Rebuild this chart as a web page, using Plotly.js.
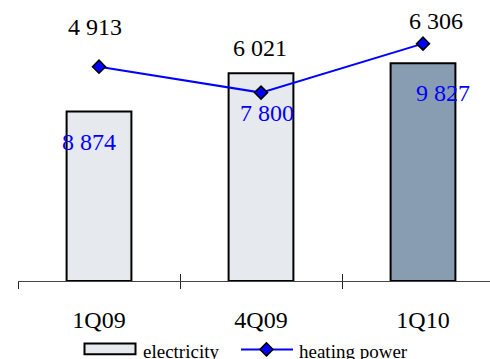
<!DOCTYPE html>
<html>
<head>
<meta charset="utf-8">
<script src="https://cdn.plot.ly/plotly-3.0.1.min.js"></script>
<style>html,body{margin:0;padding:0;background:#fff;overflow:hidden}#chart{width:490px;height:359px}</style>
</head>
<body>
<div id="chart"></div>
<script>
const categories = ["1Q09", "4Q09", "1Q10"];
const electricity = [4913, 6021, 6306];
const heatingPower = [8874, 7800, 9827];
const electricityLabels = ["4 913", "6 021", "6 306"];
const heatingLabels = ["8 874", "7 800", "9 827"];
const seriesNames = ["electricity", "heating power"];
const barColors = ["#e6e9ee", "#e6e9ee", "#889db2"];

const SERIF = "Liberation Serif";
const LABEL_SIZE = 24;

// label offsets (pixels) relative to each data point
const elecShift = [[-4, 84], [-1, 25], [13, 42]];
const heatShift = [[-10, -75], [6, -20], [20, -49]];

const traces = [
  {
    type: "bar", name: seriesNames[0], x: categories, y: electricity,
    width: 0.4,
    marker: {color: barColors, line: {color: "#000", width: 2}},
    showlegend: false
  },
  {
    type: "scatter", mode: "lines+markers", name: seriesNames[1],
    x: categories, y: heatingPower, yaxis: "y2",
    line: {color: "#0000ff", width: 2},
    marker: {symbol: "diamond", size: 10, color: "#0000ff", line: {color: "#000", width: 1.5}},
    cliponaxis: false, showlegend: false
  },
  {type: "scatter", mode: "markers", x: categories, y: [null, null, null], xaxis: "x2", showlegend: false}
];

const annotations = [];
categories.forEach((c, i) => {
  annotations.push({
    x: c, y: electricity[i], xref: "x", yref: "y", text: electricityLabels[i],
    showarrow: false, xshift: elecShift[i][0], yshift: elecShift[i][1],
    font: {family: SERIF, size: LABEL_SIZE, color: "#000"}
  });
  annotations.push({
    x: c, y: heatingPower[i], xref: "x", yref: "y2", text: heatingLabels[i],
    showarrow: false, xshift: heatShift[i][0], yshift: heatShift[i][1],
    font: {family: SERIF, size: LABEL_SIZE, color: "#0000ff"}
  });
});

// legend drawn manually to match the wide swatches
const PW = 472, PH = 281.5, ML = 18;
const px = v => (v - ML) / PW;
const py = v => (PH - v) / PH;
annotations.push({xref: "paper", yref: "paper", x: px(141), y: py(352), xanchor: "left", yanchor: "middle",
  text: seriesNames[0], showarrow: false, font: {family: SERIF, size: 19, color: "#000"}});
annotations.push({xref: "paper", yref: "paper", x: px(297), y: py(352), xanchor: "left", yanchor: "middle",
  text: seriesNames[1], showarrow: false, font: {family: SERIF, size: 19, color: "#000"}});

const shapes = [
  {type: "rect", xref: "paper", yref: "paper", x0: px(84.5), x1: px(135.5), y0: py(355), y1: py(344),
    fillcolor: barColors[0], line: {color: "#000", width: 2}},
  {type: "line", xref: "paper", yref: "paper", x0: px(241), x1: px(293), y0: py(350), y1: py(350),
    line: {color: "#0000ff", width: 2}},
  {type: "path", xref: "paper", yref: "paper", xsizemode: "pixel", ysizemode: "pixel",
    xanchor: px(266.5), yanchor: py(350), path: "M -6.5 0 L 0 6.5 L 6.5 0 L 0 -6.5 Z",
    fillcolor: "#0000ff", line: {color: "#000", width: 1.5}}
];

const xr = [-0.5, -0.5 + 472 / 162];
const layout = {
  width: 490, height: 359,
  margin: {l: 18, r: 0, t: 0, b: 77.5},
  font: {family: SERIF, size: LABEL_SIZE, color: "#000"},
  showlegend: false,
  xaxis: {
    type: "category", range: xr, showgrid: false, zeroline: false,
    showline: true, linecolor: "#444", linewidth: 1,
    ticks: "outside", ticklen: 7, tickcolor: "#222", tickwidth: 1,
    tickson: "boundaries", ticklabelstandoff: 17,
    tickfont: {family: SERIF, size: LABEL_SIZE, color: "#000"}
  },
  xaxis2: {
    type: "category", range: xr, overlaying: "x",
    showgrid: false, zeroline: false, showline: false,
    ticks: "inside", ticklen: 7, tickcolor: "#222", tickwidth: 1,
    tickson: "boundaries", showticklabels: false
  },
  yaxis: {range: [0, 281.5 * 28.92], visible: false, showgrid: false, zeroline: false},
  yaxis2: {range: [0, 281.5 * 41.33], overlaying: "y", visible: false, showgrid: false, zeroline: false},
  annotations: annotations,
  shapes: shapes
};

Plotly.newPlot("chart", traces, layout, {staticPlot: true});
</script>
</body>
</html>
